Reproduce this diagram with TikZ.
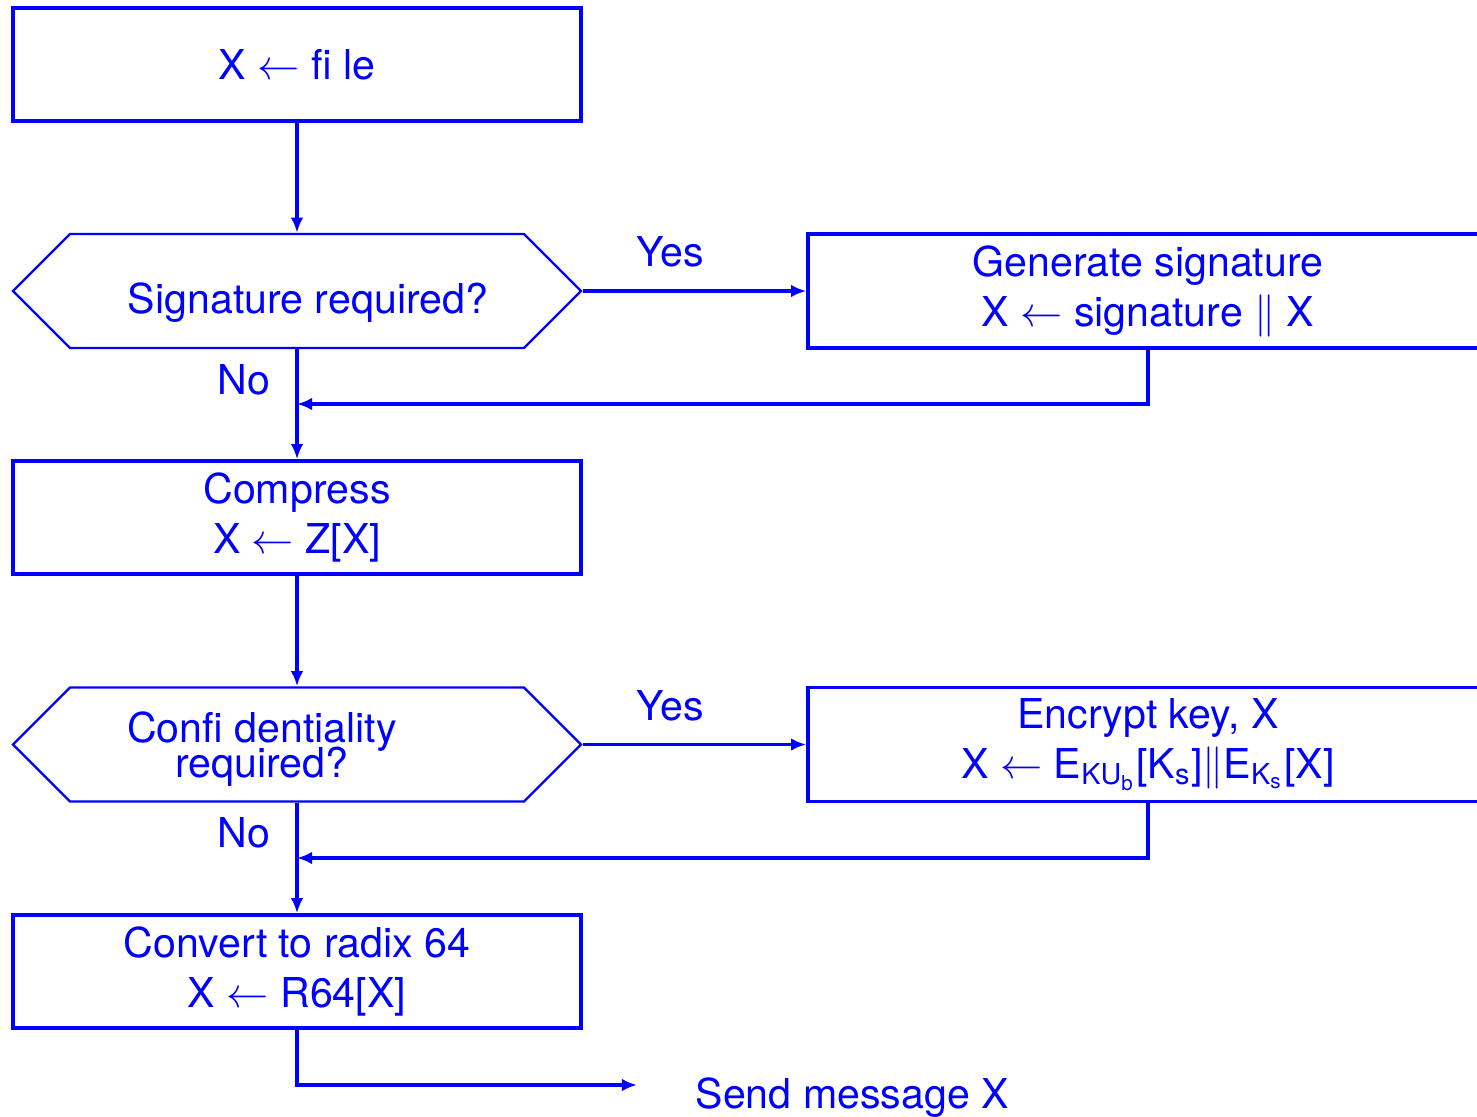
\documentclass[tikz,border=0pt]{standalone}
\usepackage{amsmath}
\usepackage{fontspec}
\setmainfont{TeX Gyre Heros}
\usepackage{tikz}
\usetikzlibrary{shapes.symbols,arrows.meta}
\definecolor{flowblue}{RGB}{0,0,255}
\tikzset{
  flownode/.style = {align=center, inner sep=0pt, text centered, text=flowblue, font=\fontsize{11.7}{14.2}\selectfont},
  stepbox/.style = {flownode, rectangle, draw=flowblue, line width=1.05pt, minimum width=5.68cm, minimum height=1.13cm},
  sidebox/.style = {stepbox, minimum width=6.80cm, minimum height=1.14cm},
  decision/.style = {shape=signal, signal to=east and west, signal pointer angle=90, draw=flowblue, line width=0.7pt, inner sep=0pt, minimum width=5.68cm, minimum height=1.14cm},
  flowline/.style = {draw=flowblue, line width=0.95pt},
  flowarrow/.style = {flowline, -{Latex[length=4.3pt,width=3.6pt]}},
  answer/.style = {flownode, above=0.22cm, xshift=-0.24cm},
}

\begin{document}
\begin{tikzpicture}
\useasboundingbox (0,0) rectangle (14.77,-11.17);
\clip (0,0) rectangle (14.77,-11.17);
% main column
\node [stepbox] (file) at (2.97,-0.645) {X $\leftarrow$ fi le};
\node [decision] (sig) at (2.97,-2.91) {};
\node [flownode] (sigq) at (3.08,-3.03) {Signature required?};
\node [stepbox] (zip) at (2.97,-5.175) {Compress\\X $\leftarrow$ Z[X]};
\node [decision] (conf) at (2.97,-7.445) {};
\node [flownode] (confq) at (2.62,-7.49) {Confi dentiality\\[-4.2pt]required?};
\node [stepbox] (radix) at (2.97,-9.715) {Convert to radix 64\\X $\leftarrow$ R64[X]};
% right column
\node [sidebox] (gen) at (11.48,-2.91) {Generate signature\\X $\leftarrow$ signature $\|$ X};
\node [sidebox] (enc) at (11.48,-7.445) {Encrypt key, X\\X $\leftarrow$ E$_{\text{KU}_{\text{b}}}$[K$_{\text{s}}$]$\|$E$_{\text{K}_{\text{s}}}$[X]};
\coordinate (sigjoin) at (2.97,-4.04);
\coordinate (confjoin) at (2.97,-8.58);
\coordinate (sendin) at (6.37,-10.85);
\node [flownode, anchor=west] (send) at (6.95,-10.98) {Send message X};

\draw [flowarrow] (file) -- (sig);
\draw [flowarrow] (sig.east) -- node [answer] (yes1) {Yes} (gen.west);
\draw [flowline] (sig) -- (sigjoin);
\draw [flowarrow] (sigjoin) -- (zip);
\draw [flowarrow] (gen) |- (sigjoin);
\node [flownode] (no1) at (2.44,-3.80) {No};
\draw [flowarrow] (zip) -- (conf);
\draw [flowarrow] (conf.east) -- node [answer] (yes2) {Yes} (enc.west);
\draw [flowline] (conf) -- (confjoin);
\draw [flowarrow] (confjoin) -- (radix);
\draw [flowarrow] (enc) |- (confjoin);
\node [flownode] (no2) at (2.44,-8.33) {No};
\draw [flowarrow] (radix) |- (sendin);
\end{tikzpicture}
\end{document}
